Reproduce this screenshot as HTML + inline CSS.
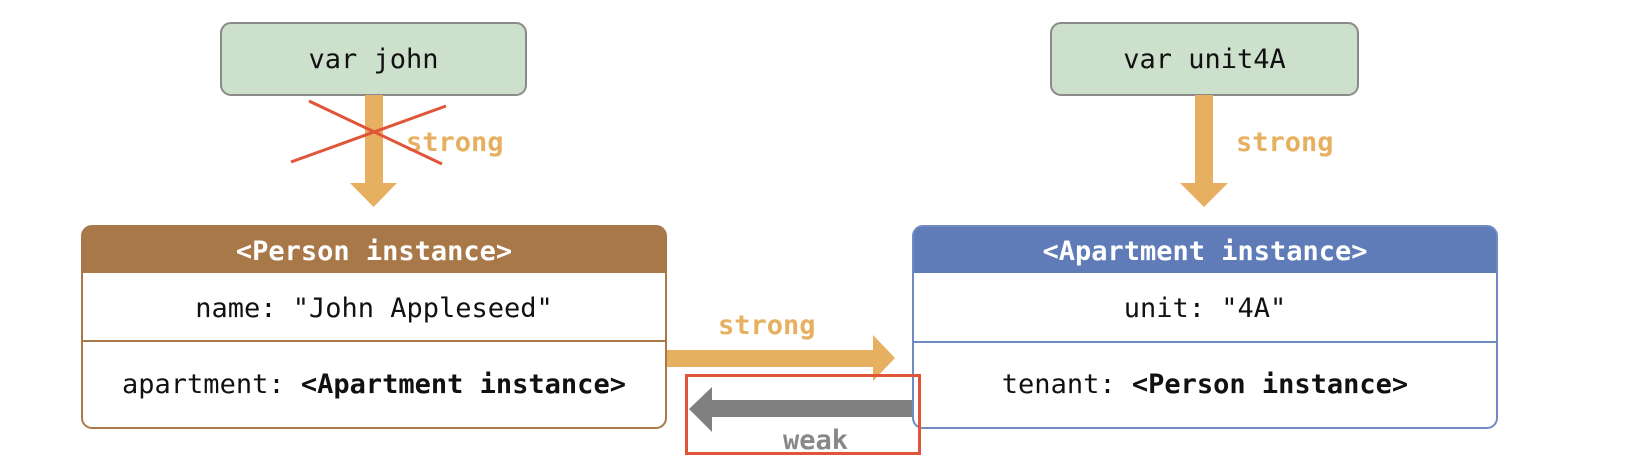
<!DOCTYPE html>
<html><head><meta charset="utf-8"><style>
html,body{margin:0;padding:0;background:#fff;}
svg{display:block;}
text{font-family:"DejaVu Sans Mono","Liberation Mono",monospace;font-size:27px;}
</style></head><body>
<svg width="1652" height="470" viewBox="0 0 1652 470" xmlns="http://www.w3.org/2000/svg">
<!-- var boxes -->
<rect x="221" y="23" width="305" height="72" rx="10" fill="#cde0cb" stroke="#8a8a8a" stroke-width="2"/>
<text x="373.5" y="68" text-anchor="middle" fill="#111">var john</text>
<rect x="1051" y="23" width="307" height="72" rx="10" fill="#cde0cb" stroke="#8a8a8a" stroke-width="2"/>
<text x="1204.5" y="68" text-anchor="middle" fill="#111">var unit4A</text>

<!-- vertical arrows -->
<rect x="365" y="95" width="18" height="89" fill="#e6b060"/>
<polygon points="350,183 397,183 373.5,207" fill="#e6b060"/>
<rect x="1195" y="95" width="18" height="89" fill="#e6b060"/>
<polygon points="1180,183 1228,183 1204,207" fill="#e6b060"/>
<text x="406" y="151" fill="#e6b060" font-weight="bold">strong</text>
<text x="1236" y="151" fill="#e6b060" font-weight="bold">strong</text>
<!-- cross -->
<line x1="309" y1="101" x2="442" y2="164" stroke="#e0553a" stroke-width="3"/>
<line x1="291" y1="162" x2="446" y2="106" stroke="#e0553a" stroke-width="3"/>

<!-- Person box -->
<path d="M82,236 a10,10 0 0 1 10,-10 h564 a10,10 0 0 1 10,10 v37 h-584 z" fill="#a97848"/>
<rect x="82" y="226" width="584" height="202" rx="10" fill="none" stroke="#a97848" stroke-width="2"/>
<line x1="82" y1="341" x2="666" y2="341" stroke="#a97848" stroke-width="2"/>
<text x="374" y="260" text-anchor="middle" fill="#fff" font-weight="bold">&lt;Person instance&gt;</text>
<text x="374" y="317" text-anchor="middle" fill="#111">name: "John Appleseed"</text>
<text x="374" y="393" text-anchor="middle" fill="#111">apartment: <tspan font-weight="bold">&lt;Apartment instance&gt;</tspan></text>

<!-- Apartment box -->
<path d="M913,236 a10,10 0 0 1 10,-10 h564 a10,10 0 0 1 10,10 v37 h-584 z" fill="#5f7cb8"/>
<rect x="913" y="226" width="584" height="202" rx="10" fill="none" stroke="#6f8ac4" stroke-width="2"/>
<line x1="913" y1="342" x2="1497" y2="342" stroke="#6f8ac4" stroke-width="2"/>
<text x="1205" y="260" text-anchor="middle" fill="#fff" font-weight="bold">&lt;Apartment instance&gt;</text>
<text x="1205" y="317" text-anchor="middle" fill="#111">unit: "4A"</text>
<text x="1205" y="393" text-anchor="middle" fill="#111">tenant: <tspan font-weight="bold">&lt;Person instance&gt;</tspan></text>

<!-- strong horizontal -->
<rect x="667" y="350" width="207" height="17" fill="#e6b060"/>
<polygon points="873,335 873,381 895,358" fill="#e6b060"/>
<text x="718" y="334" fill="#e6b060" font-weight="bold">strong</text>

<!-- weak -->
<rect x="711" y="400" width="201" height="17" fill="#808080"/>
<polygon points="712,387 712,432 689,409" fill="#808080"/>
<text x="783" y="449" fill="#888" font-weight="bold">weak</text>
<rect x="686.5" y="375.5" width="233" height="78" fill="none" stroke="#e0553a" stroke-width="3"/>
</svg>
</body></html>
